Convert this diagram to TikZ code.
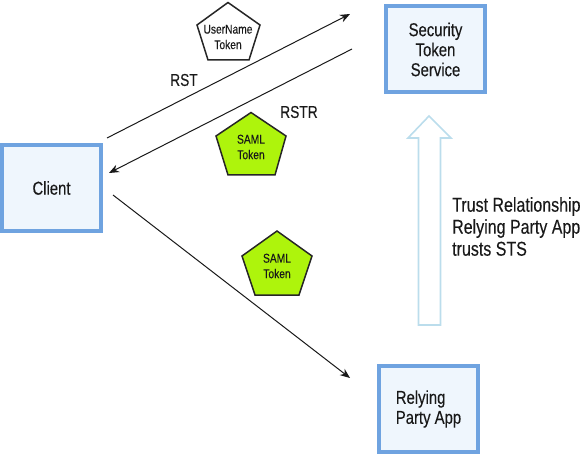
\documentclass[tikz,border=0pt]{standalone}
\usepackage{fontspec}
\setmainfont[FakeStretch=0.8,FakeBold=0.2]{Liberation Sans}
\usetikzlibrary{arrows.meta}
\definecolor{boxline}{HTML}{6FA3E0}
\definecolor{boxfill}{HTML}{EFF6FD}
\definecolor{trustline}{HTML}{BBDDEC}
\definecolor{tokengreen}{HTML}{AEF40C}
\tikzset{
  x=1pt,y=-1pt,
  actor/.style={draw=boxline,fill=boxfill,line width=4pt,minimum width=99pt,minimum height=86pt,inner sep=0pt,font=\fontsize{18.6pt}{20pt}\selectfont,text=black!90},
  tokenshape/.style={draw=black!85,line width=1.5pt,line join=miter},
  tokentext/.style={inner sep=0pt,align=center,font=\fontsize{12.8pt}{15.5pt}\selectfont,text=black!90},
  plain/.style={inner sep=0pt,font=\fontsize{17.2pt}{22pt}\selectfont,text=black!90},
  flow/.style={-{Stealth[length=10pt,width=8pt]},line width=1pt,black!90},
  trustarrow/.style={draw=trustline,fill=white,line width=1.6pt,line join=miter}
}
\begin{document}
\begin{tikzpicture}
\useasboundingbox (0,0) rectangle (583,454);
\node[actor,align=center] (client) at (51.5,188) {Client};
\node[actor,align=center] (sts) at (435.5,49.5) {Security\\Token\\Service};
\node[actor,align=left] (rp) at (428.5,409) {Relying\\Party App};
\draw[tokenshape,fill=white] (228,2.5) -- (260,25) -- (249,60) -- (208,60) -- (197,25) -- cycle;
\draw[tokenshape,fill=tokengreen] (251,112.5) -- (286,136) -- (275,175) -- (228,175) -- (216,136) -- cycle;
\draw[tokenshape,fill=tokengreen] (277,231) -- (312,256) -- (299,295) -- (255,295) -- (242,256) -- cycle;
\node[tokentext] (ut) at (228,37) {UserName\\Token};
\node[tokentext] (s1) at (251,147) {SAML\\Token};
\node[tokentext] (s2) at (277,266) {SAML\\Token};
\node[plain] (rst) at (184,80) {RST};
\node[plain] (rstr) at (299,112) {RSTR};
\node[plain,anchor=north west,align=left,font=\fontsize{20pt}{22pt}\selectfont] (trust) at (452,197) {Trust Relationship\\Relying Party App\\trusts STS};
\coordinate (a1) at (107,138);
\coordinate (a2) at (350,14);
\coordinate (b1) at (352,49);
\coordinate (b2) at (109,173);
\coordinate (c1) at (113,195);
\coordinate (c2) at (350,378);
\draw[flow] (a1) -- (a2);
\draw[flow] (b1) -- (b2);
\draw[flow] (c1) -- (c2);
\draw[trustarrow] (418.5,325) -- (418.5,138) -- (408,138) -- (429,116) -- (451,138) -- (440.5,138) -- (440.5,325) -- cycle;
\end{tikzpicture}
\end{document}
